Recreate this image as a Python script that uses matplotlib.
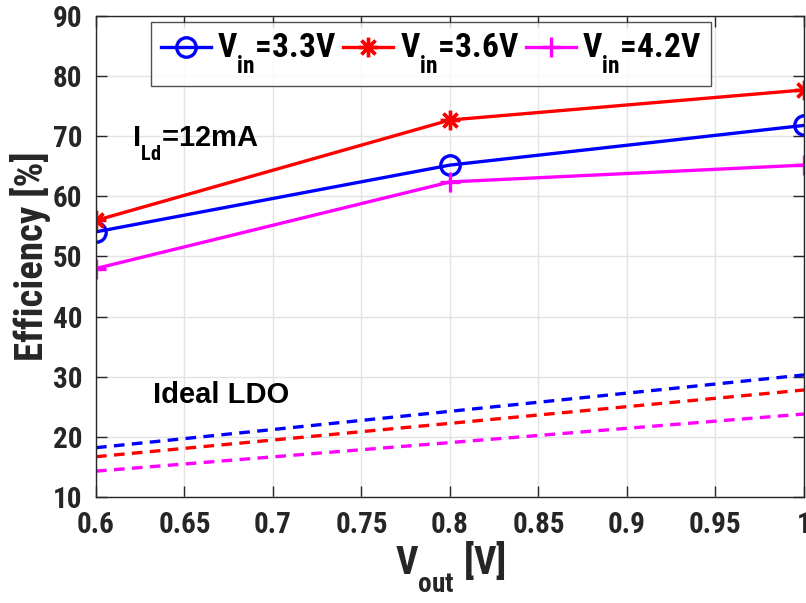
import matplotlib
matplotlib.use("Agg")
import matplotlib.pyplot as plt
from matplotlib import font_manager

# Deeper subscripts, as in the MATLAB text renderer
try:
    import matplotlib._mathtext as _mt
    _mt.FontConstantsBase.sub1 = 0.9
except Exception:
    pass

# Pick a bold, narrow sans family
_bold = {f.name for f in font_manager.fontManager.ttflist
         if (f.weight if isinstance(f.weight, int) else 400) >= 600}
FONT = "DejaVu Sans"
for cand in ["Liberation Sans Narrow", "Roboto Condensed", "Archivo Narrow",
             "Barlow Semi Condensed", "Asap Condensed"]:
    if cand in _bold:
        FONT = cand
        break
WIDE = "Liberation Sans"

plt.rcParams["font.family"] = [FONT, "DejaVu Sans"]
plt.rcParams["font.weight"] = "bold"
plt.rcParams["axes.labelweight"] = "bold"
plt.rcParams["mathtext.fontset"] = "custom"
plt.rcParams["mathtext.rm"] = f"{FONT}:bold"
plt.rcParams["mathtext.it"] = f"{FONT}:bold"
plt.rcParams["mathtext.bf"] = f"{FONT}:bold"

# Measured efficiency vs output voltage
vout = [0.6, 0.8, 1.0]
eff_33 = [54.1, 65.2, 71.8]
eff_36 = [56.0, 72.7, 77.7]
eff_42 = [48.0, 62.4, 65.2]

# Ideal LDO efficiency (endpoints)
vout_ideal = [0.6, 1.0]
ideal_33 = [18.2, 30.3]
ideal_36 = [16.7, 27.8]
ideal_42 = [14.3, 23.8]

xticks = [0.6, 0.65, 0.7, 0.75, 0.8, 0.85, 0.9, 0.95, 1.0]
xticklabels = ["0.6", "0.65", "0.7", "0.75", "0.8", "0.85", "0.9", "0.95", "1"]
yticks = [10, 20, 30, 40, 50, 60, 70, 80, 90]

BLUE, RED, MAG = "#0000ff", "#ff0000", "#ff00ff"
DARK = "#262626"

fig = plt.figure(figsize=(8.06, 6.03), dpi=100)
ax = fig.add_axes([0.1191, 0.1758, 0.8784, 0.7977])

lw = 2.4
ax.plot(vout, eff_33, color=BLUE, lw=lw, marker="o", ms=14, mfc="none", mew=2.4,
        label=r"V$_{\mathrm{in}}$=3.3V")
ax.plot(vout, eff_36, color=RED, lw=lw, marker=(8, 2, 0), ms=14, mew=2.4,
        label=r"V$_{\mathrm{in}}$=3.6V")
ax.plot(vout, eff_42, color=MAG, lw=lw, marker="+", ms=14, mew=2.4,
        label=r"V$_{\mathrm{in}}$=4.2V")

dash = (3.2, 2.2)
ax.plot(vout_ideal, ideal_33, color=BLUE, lw=lw, ls=(0, dash))
ax.plot(vout_ideal, ideal_36, color=RED, lw=lw, ls=(0, dash))
ax.plot(vout_ideal, ideal_42, color=MAG, lw=lw, ls=(0, dash))

ax.set_xlim(0.6, 1.0)
ax.set_ylim(10, 90)
ax.set_xticks(xticks)
ax.set_xticklabels(xticklabels)
ax.set_yticks(yticks)
ax.grid(True, color="#e3e3e3", lw=1.0)
ax.set_axisbelow(True)
ax.tick_params(direction="in", length=8, width=1, top=True, right=True,
               labelsize=21, colors=DARK, pad=10)
for lab in ax.get_xticklabels() + ax.get_yticklabels():
    lab.set_fontweight("bold")
for s in ax.spines.values():
    s.set_color(DARK)
    s.set_linewidth(1.0)

ax.set_xlabel(r"V$_{\mathrm{out}}$ [V]", fontsize=28, color=DARK,
              fontweight="bold", labelpad=0)
ax.set_ylabel("Efficiency [%]", fontsize=28, color=DARK,
              fontweight="bold", labelpad=1)

ax.text(0.6203, 68.2, r"I$_{\mathrm{Ld}}$=12mA", fontsize=21, color="black",
        family=[WIDE, "DejaVu Sans"], ha="left", va="baseline")
ax.text(0.6322, 25.6, "Ideal LDO", fontsize=21, color="black",
        family=[WIDE, "DejaVu Sans"], ha="left", va="baseline")

leg = ax.legend(loc="upper left", bbox_to_anchor=(0.077, 0.987), ncol=3,
                fontsize=24, frameon=True, fancybox=False, handlelength=1.5,
                handletextpad=0.2, columnspacing=0.2, borderpad=0.3,
                borderaxespad=0)
leg.get_frame().set_edgecolor(DARK)
leg.get_frame().set_linewidth(1.0)

fig.savefig("out.png", dpi=100)
